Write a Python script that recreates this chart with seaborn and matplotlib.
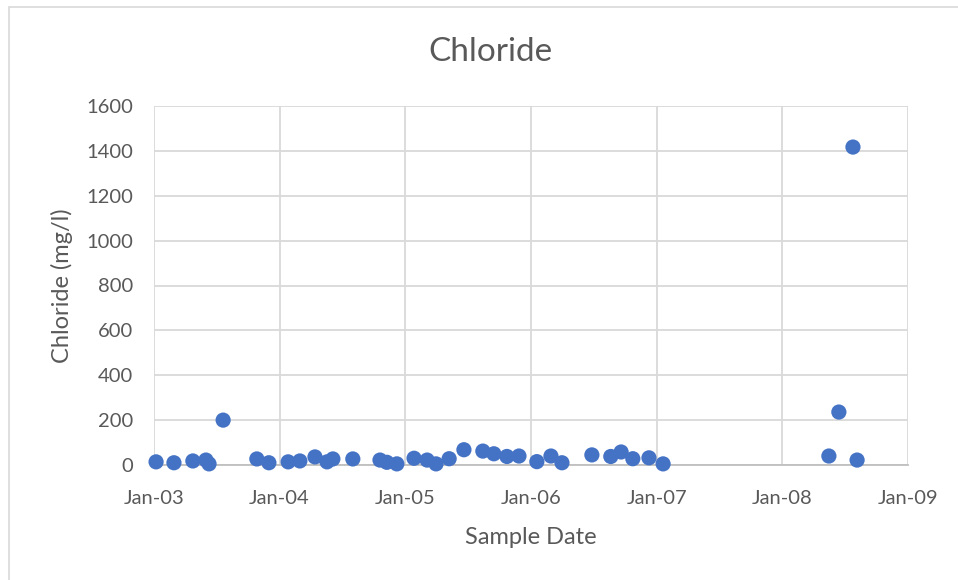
import numpy as np
import pandas as pd
import matplotlib.pyplot as plt
import matplotlib.dates as mdates
from matplotlib.patches import Rectangle
import seaborn as sns

POINT_COLOR = '#4472C4'
TEXT_COLOR = '#595959'
GRID_COLOR = '#D9D9D9'

sample_dates = ['2003-01-07', '2003-02-28', '2003-04-24', '2003-06-01', '2003-06-10',
                '2003-07-21', '2003-10-27', '2003-12-01', '2004-01-26', '2004-02-29',
                '2004-04-13', '2004-05-18', '2004-06-04', '2004-08-01', '2004-10-19',
                '2004-11-08', '2004-12-07', '2005-01-26', '2005-03-05', '2005-03-31',
                '2005-05-08', '2005-06-20', '2005-08-14', '2005-09-15', '2005-10-23',
                '2005-11-27', '2006-01-18', '2006-02-28', '2006-04-01', '2006-06-27',
                '2006-08-21', '2006-09-20', '2006-10-24', '2006-12-10', '2007-01-20',
                '2008-05-16', '2008-06-14', '2008-07-25', '2008-08-06']
chloride = [14, 10, 18, 22, 5,
            200, 27, 10, 14, 18,
            36, 14, 27, 27, 22,
            12, 5, 30, 22, 5,
            28, 68, 62, 50, 38,
            40, 15, 40, 10, 45,
            38, 58, 28, 32, 5,
            40, 236, 1417, 22]
year_ticks = ['2003-01-01', '2004-01-01', '2005-01-01', '2006-01-01',
              '2007-01-01', '2008-01-01', '2009-01-01']
y_ticks = [0, 200, 400, 600, 800, 1000, 1200, 1400, 1600]

df = pd.DataFrame({'Sample Date': pd.to_datetime(sample_dates), 'Chloride': chloride})

sns.set_theme(style='white')
plt.rcParams['font.family'] = ['Lato', 'DejaVu Sans']

fig = plt.figure(figsize=(9.58, 5.8), dpi=100)
ax = fig.add_axes([154 / 958, 1 - 465 / 580, (908 - 154) / 958, (465 - 106) / 580])

# chart area border (left and top edges visible in the export)
fig.patches.append(Rectangle((9 / 958, -0.1), 1.0, 1.1 - 7 / 580, transform=fig.transFigure,
                             fill=False, edgecolor='#D9D9D9', linewidth=1.2))

sns.scatterplot(data=df, x='Sample Date', y='Chloride', ax=ax, color=POINT_COLOR,
                s=120, edgecolor='none', zorder=3, clip_on=False)

ax.set_xlim(pd.Timestamp(year_ticks[0]), pd.Timestamp(year_ticks[-1]))
ax.set_ylim(y_ticks[0], y_ticks[-1])
ax.set_xticks(pd.to_datetime(year_ticks))
ax.xaxis.set_major_formatter(mdates.DateFormatter('%b-%y'))
ax.set_yticks(y_ticks)

ax.grid(True, color=GRID_COLOR, linewidth=1.3)
ax.set_axisbelow(True)
for side in ['top', 'right', 'left']:
    ax.spines[side].set_visible(False)
ax.spines['bottom'].set_color('#BFBFBF')
ax.spines['bottom'].set_linewidth(1.3)

ax.tick_params(axis='both', length=0, labelsize=14.5, colors=TEXT_COLOR)
ax.tick_params(axis='x', pad=18)
ax.tick_params(axis='y', pad=15)

ax.set_xlabel('Sample Date', fontsize=17, color=TEXT_COLOR, va='center')
ax.set_ylabel('Chloride (mg/l)', fontsize=17, color=TEXT_COLOR, va='center')
ax.xaxis.set_label_coords(0.5 * (462 + 600 - 2 * 154) / 754, (465 - 537) / 359)
ax.yaxis.set_label_coords((62 - 154) / 754, 0.5)

fig.text(490 / 958, 1 - 52 / 580, 'Chloride', ha='center', va='center',
         fontsize=24, color=TEXT_COLOR)

fig.savefig('out.png', dpi=100)
plt.close(fig)
